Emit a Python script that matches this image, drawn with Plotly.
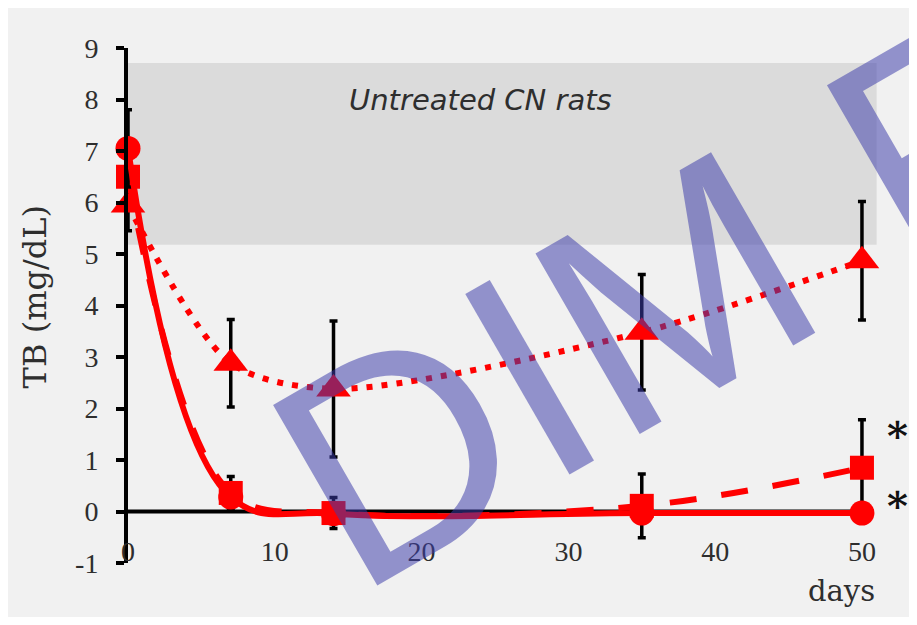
import plotly.graph_objects as go

# ---------------- data ----------------
days = [0, 7, 14, 35, 50]

circle_tb = [7.05, 0.28, -0.04, -0.03, -0.03]
circle_err = [0.75, 0.0, 0.0, 0.0, 0.0]

square_tb = [6.5, 0.36, -0.03, 0.11, 0.85]
square_err = [0.3, 0.32, 0.3, 0.62, 0.93]

triangle_tb = [5.95, 2.88, 2.38, 3.48, 4.87]
triangle_err = [0.5, 0.85, 1.32, 1.12, 1.15]

band_low, band_high, band_end = 5.18, 8.71, 51
x_ticks = [0, 10, 20, 30, 40, 50]
y_ticks = [-1, 0, 1, 2, 3, 4, 5, 6, 7, 8, 9]
y_tick_labels = ["-1", "0", "1", "2", "3", "4", "5", "6", "7", "8", "9"]
axis_x_end = 50.8

RED = "#ff0000"
TXT = "#2e2e2e"

fig = go.Figure()

def add_series(y, err, symbol, size, dash, width, smooth):
    fig.add_trace(go.Scatter(
        x=days, y=y, mode="lines+markers",
        line=dict(color=RED, width=width, dash=dash, shape="spline", smoothing=smooth),
        marker=dict(symbol=symbol, size=size, color=RED),
        error_y=dict(type="data", array=err, visible=True, color="black", thickness=3.5, width=4),
        cliponaxis=False, showlegend=False, hoverinfo="skip",
    ))

add_series(triangle_tb, triangle_err, "triangle-up", 30, "6px,9px", 6, 0.8)
add_series(square_tb, square_err, "square", 24, "27px,25px", 6, 1.0)
add_series(circle_tb, circle_err, "circle", 25, "solid", 6, 1.1)

shapes = [
    dict(type="rect", xref="x", yref="y", x0=0, x1=band_end, y0=band_low, y1=band_high,
         fillcolor="rgb(219,219,219)", line=dict(width=0), layer="below"),
    dict(type="line", xref="x", yref="y", x0=0, x1=axis_x_end, y0=0, y1=0,
         line=dict(color="black", width=4), layer="below"),
]

annotations = [
    dict(text="<i>Untreated CN rats</i>", x=24, y=8.0, xref="x", yref="y", showarrow=False,
         font=dict(family="DejaVu Sans", size=29, color=TXT), xanchor="center", yanchor="middle"),
    dict(text="TB (mg/dL)", x=-0.12, y=0.517, xref="paper", yref="paper", showarrow=False,
         textangle=-90, font=dict(family="DejaVu Serif", size=32, color=TXT), xanchor="center", yanchor="middle"),
    dict(text="days", x=0.917, y=-0.055, xref="paper", yref="paper", showarrow=False,
         font=dict(family="DejaVu Serif", size=29, color=TXT), xanchor="center", yanchor="middle"),
    dict(text="<b>*</b>", x=52.45, y=1.48, xref="x", yref="y", showarrow=False,
         font=dict(family="DejaVu Serif", size=40, color="#111"), xanchor="center", yanchor="middle"),
    dict(text="<b>*</b>", x=52.45, y=0.12, xref="x", yref="y", showarrow=False,
         font=dict(family="DejaVu Serif", size=40, color="#111"), xanchor="center", yanchor="middle"),
    dict(text="DIM F", x=0.684, y=0.509, xref="paper", yref="paper", showarrow=False,
         textangle=-30, font=dict(family="Liberation Sans", size=303, color="rgba(60,60,170,0.53)"),
         xanchor="center", yanchor="middle"),
]

fig.update_layout(
    width=901, height=609,
    margin=dict(l=120, r=3, t=40, b=54),
    paper_bgcolor="#f1f1f1", plot_bgcolor="#f1f1f1",
    xaxis=dict(range=[0, 53], tickvals=x_ticks, showline=False, ticks="", showgrid=False,
               zeroline=False, anchor="free", position=0.06,
               tickfont=dict(family="Liberation Serif", size=28, color=TXT)),
    yaxis=dict(range=[-1, 9], tickvals=y_ticks, ticktext=y_tick_labels, showline=True,
               linecolor="black", linewidth=4,
               ticks="outside", ticklen=8, tickwidth=4, tickcolor="black", showgrid=False,
               zeroline=False, ticklabelstandoff=12,
               tickfont=dict(family="Liberation Serif", size=28, color=TXT)),
    shapes=shapes, annotations=annotations,
)

fig.write_html("out.html")
